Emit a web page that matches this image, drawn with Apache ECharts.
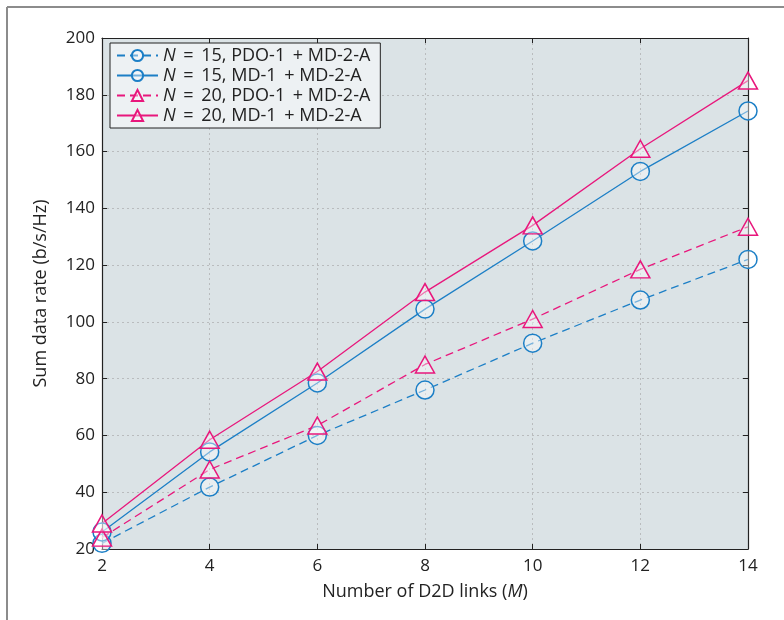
<!DOCTYPE html>
<html>
<head>
<meta charset="utf-8">
<script src="https://cdn.jsdelivr.net/npm/echarts@6/dist/echarts.min.js"></script>
<style>
html, body { margin: 0; padding: 0; background: #fff; }
#main { width: 784px; height: 620px; }
</style>
</head>
<body>
<div id="main"></div>
<script>
// data
var links = [2, 4, 6, 8, 10, 12, 14];
var n15Pdo = [22, 41.8, 60, 76, 92.5, 107.7, 122];
var n15Md = [26, 54.2, 78.5, 104.5, 128.5, 153, 174.3];
var n20Pdo = [24, 48, 63.5, 85, 101, 118.5, 133.5];
var n20Md = [29, 58.5, 82.5, 110.5, 134, 161, 185];
var seriesNames = ['N = 15, PDO-1 + MD-2-A', 'N = 15, MD-1 + MD-2-A', 'N = 20, PDO-1 + MD-2-A', 'N = 20, MD-1 + MD-2-A'];

var blue = '#1c7fc6';
var pink = '#e8177c';
var font = 'Open Sans';

function pairs(ys) {
	var out = [];
	for (var i = 0; i < links.length; i++) out.push([links[i], ys[i]]);
	return out;
}

function makeSeries(name, ys, color, dashed, symbol) {
	return {
		name: name,
		type: 'line',
		data: pairs(ys),
		clip: false,
		symbol: symbol,
		symbolSize: symbol == 'circle' ? 18 : [19, 17],
		showAllSymbol: true,
		lineStyle: { color: color, width: 1.3, type: dashed ? [8, 5] : 'solid' },
		itemStyle: { color: 'rgba(255,255,255,0.4)', borderColor: color, borderWidth: 1.5 },
		emphasis: { disabled: true }
	};
}

var myChart = echarts.init(document.getElementById('main'));

var tickStyle = { show: true, inside: true, length: 5, lineStyle: { color: '#222', width: 1 } };
var lineStyleAxis = { show: true, lineStyle: { color: '#222', width: 1.2 } };

option = {
	animation: false,
	textStyle: { fontFamily: font },
	graphic: [
		{ type: 'line', shape: { x1: 7, y1: 7, x2: 7, y2: 620 }, style: { stroke: '#8c8c8c', lineWidth: 2 } },
		{ type: 'line', shape: { x1: 7, y1: 7, x2: 784, y2: 7 }, style: { stroke: '#8c8c8c', lineWidth: 2 } }
	],
	grid: {
		left: 102, right: 36, top: 38, bottom: 71,
		show: true,
		backgroundColor: '#dbe3e6',
		borderWidth: 0
	},
	legend: {
		orient: 'vertical',
		left: 110, top: 43,
		padding: [3, 10, 3, 6],
		itemGap: 1,
		itemWidth: 41,
		itemHeight: 14,
		backgroundColor: '#edf1f3',
		borderColor: '#222',
		borderWidth: 1,
		borderRadius: 0,
		data: seriesNames,
		formatter: function (name) {
			return '{i|N}\u2009' + name.substring(1).replace(' = ', ' =\u2009 ').replace(' + ', '\u2009 + ');
		},
		textStyle: {
			fontFamily: font, fontSize: 18, lineHeight: 19, color: '#222',
			rich: { i: { fontFamily: font, fontSize: 18, lineHeight: 19, fontStyle: 'italic', color: '#222' } }
		}
	},
	xAxis: [
		{
			type: 'value', min: 2, max: 14, interval: 2,
			name: 'Number of D2D links ({i|M})',
			nameLocation: 'middle', nameGap: 34,
			nameTextStyle: {
				fontFamily: font, fontSize: 18, color: '#222',
				rich: { i: { fontFamily: font, fontSize: 18, fontStyle: 'italic', color: '#222' } }
			},
			axisLine: lineStyleAxis,
			axisTick: tickStyle,
			axisLabel: { fontFamily: font, fontSize: 17, color: '#222', margin: 9 },
			splitLine: { show: true, lineStyle: { color: '#b9bcbe', type: [2, 3], width: 1 } }
		},
		{
			type: 'value', min: 2, max: 14, interval: 2, position: 'top',
			axisLine: lineStyleAxis, axisTick: tickStyle,
			axisLabel: { show: false }, splitLine: { show: false }
		}
	],
	yAxis: [
		{
			type: 'value', min: 20, max: 200, interval: 20,
			name: 'Sum data rate (b/s/Hz)',
			nameLocation: 'middle', nameGap: 52,
			nameTextStyle: { fontFamily: font, fontSize: 18, color: '#222' },
			axisLine: lineStyleAxis,
			axisTick: tickStyle,
			axisLabel: { fontFamily: font, fontSize: 17, color: '#222', margin: 7 },
			splitLine: { show: true, lineStyle: { color: '#b9bcbe', type: [2, 3], width: 1 } }
		},
		{
			type: 'value', min: 20, max: 200, interval: 20, position: 'right',
			axisLine: lineStyleAxis, axisTick: tickStyle,
			axisLabel: { show: false }, splitLine: { show: false }
		}
	],
	series: [
		makeSeries(seriesNames[0], n15Pdo, blue, true, 'circle'),
		makeSeries(seriesNames[1], n15Md, blue, false, 'circle'),
		makeSeries(seriesNames[2], n20Pdo, pink, true, 'triangle'),
		makeSeries(seriesNames[3], n20Md, pink, false, 'triangle')
	]
};

myChart.setOption(option);
</script>
</body>
</html>
